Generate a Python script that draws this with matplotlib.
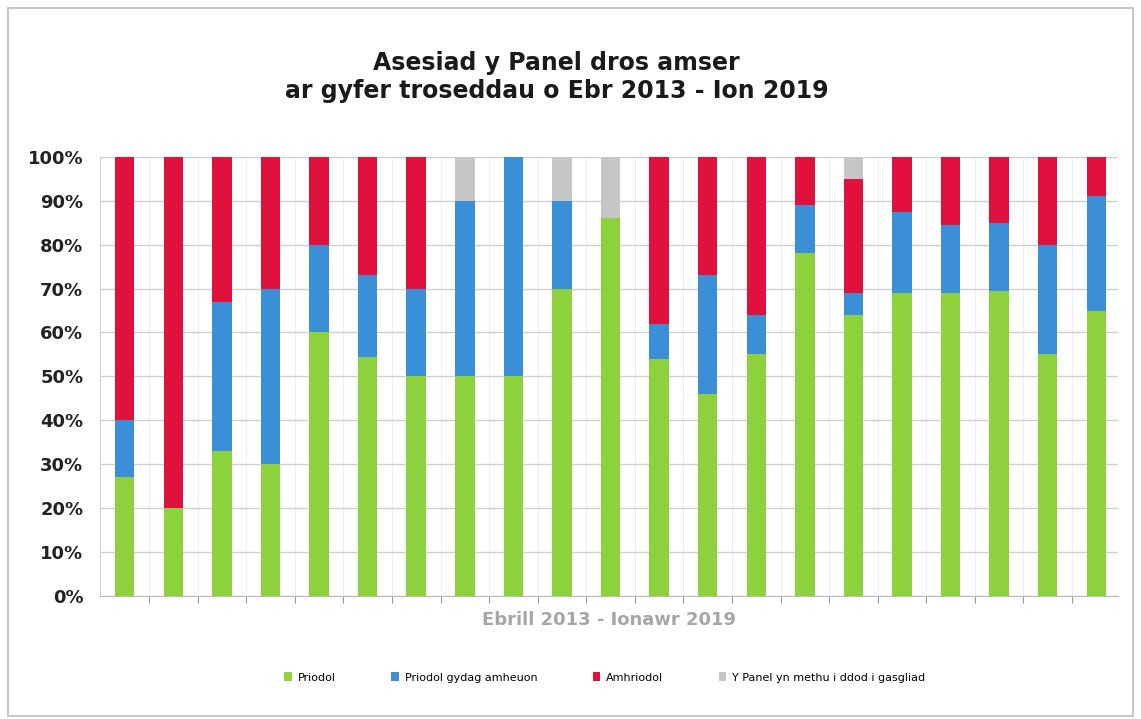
import matplotlib.pyplot as plt
import numpy as np
from matplotlib.patches import Rectangle

# data (percent of cases per period)
periods = list(range(1, 22))
priodol = [27, 20, 33, 30, 60, 54.5, 50, 50, 50, 70, 86, 54, 46, 55, 78, 64, 69, 69, 69.5, 55, 65]
priodol_amheuon = [13, 0, 34, 40, 20, 18.5, 20, 40, 50, 20, 0, 8, 27, 9, 11, 5, 18.5, 15.5, 15.5, 25, 26]
amhriodol = [60, 80, 33, 30, 20, 27, 30, 0, 0, 0, 0, 38, 27, 36, 11, 26, 12.5, 15.5, 15, 20, 9]
methu = [0, 0, 0, 0, 0, 0, 0, 10, 0, 10, 14, 0, 0, 0, 0, 5, 0, 0, 0, 0, 0]

labels = ['Priodol', 'Priodol gydag amheuon', 'Amhriodol', 'Y Panel yn methu i ddod i gasgliad']
colors = ['#8DD13C', '#3B8FD6', '#E0113D', '#C6C6C6']

fig = plt.figure(figsize=(11.41, 7.19), dpi=100)
ax = fig.add_axes([0.0876, 0.171, 0.892, 0.611])

# outer chart border
fig.patches.append(Rectangle((0.007, 0.004), 0.986, 0.985, transform=fig.transFigure,
                             fill=False, edgecolor='#c8c8c8', linewidth=1.5))

x = np.arange(len(periods))
bottom = np.zeros(len(periods))
for vals, col, lab in zip([priodol, priodol_amheuon, amhriodol, methu], colors, labels):
    vals = np.array(vals, dtype=float)
    ax.bar(x, vals, 0.4, bottom=bottom, color=col, label=lab, zorder=3)
    bottom += vals

ax.set_ylim(0, 100)
ax.set_xlim(-0.51, 20.44)
ax.set_yticks(range(0, 101, 10))
ax.set_yticklabels(['%d%%' % v for v in range(0, 101, 10)],
                   fontsize=13, fontweight='bold', color='#222222')
ax.yaxis.grid(True, color='#d0d0d0', linewidth=1, zorder=0)
ax.set_xticks(x[:-1] + 0.5)
ax.set_xticklabels([])
ax.xaxis.grid(True, color='#eeeeee', linewidth=0.8, zorder=0)
ax.tick_params(axis='x', length=5, color='#999999')
ax.tick_params(axis='y', length=0, pad=12)
for s in ['top', 'right']:
    ax.spines[s].set_visible(False)
ax.spines['left'].set_color('#d0d0d0')
ax.spines['bottom'].set_color('#bbbbbb')

ax.set_xlabel('Ebrill 2013 - Ionawr 2019', fontsize=13, fontweight='bold',
              color='#a6a6a6', labelpad=2)

fig.text(0.488, 0.913, 'Asesiad y Panel dros amser', ha='center', va='center',
         fontsize=17, fontweight='heavy', color='#1a1a1a')
fig.text(0.488, 0.873, 'ar gyfer troseddau o Ebr 2013 - Ion 2019', ha='center', va='center',
         fontsize=17, fontweight='heavy', color='#1a1a1a')

fig.legend(loc='center', bbox_to_anchor=(0.53, 0.058), ncol=4, frameon=False,
           fontsize=8, handlelength=0.7, handleheight=0.9, handletextpad=0.5,
           columnspacing=5.0)

plt.savefig('out.png')
